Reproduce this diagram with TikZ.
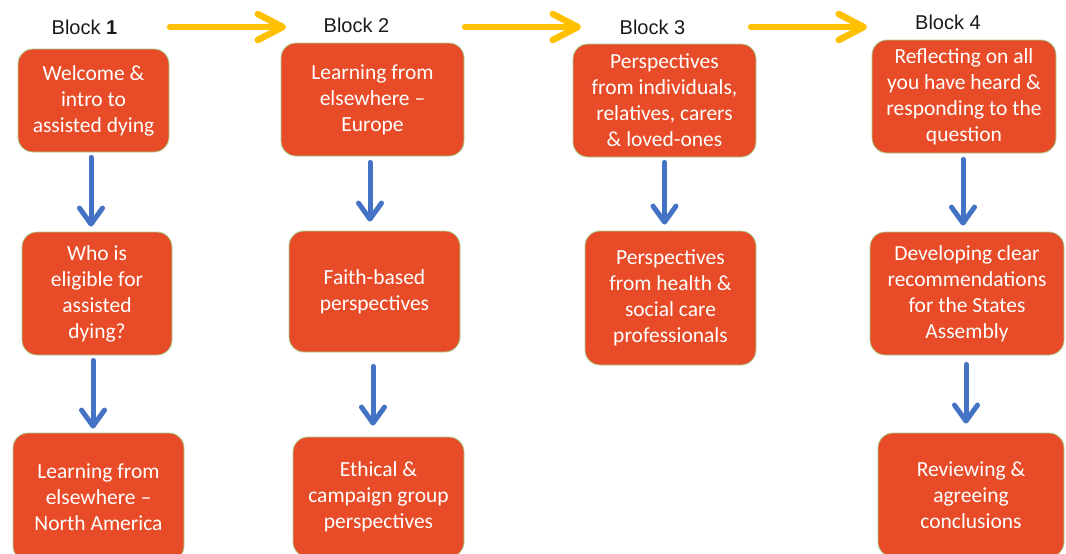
\documentclass[tikz,border=0pt]{standalone}
\usepackage{fontspec}
\setmainfont{Carlito}
\newfontfamily\arialf{Liberation Sans}
\usetikzlibrary{arrows.meta}
\definecolor{boxfill}{HTML}{E84B27}
\definecolor{boxline}{HTML}{A9D18E}
\definecolor{barrowc}{HTML}{4472C4}
\definecolor{yarrowc}{HTML}{FFC000}
\definecolor{labc}{HTML}{1A1A1A}
\tikzset{
  box/.style={draw=boxline, line width=0.8pt, fill=boxfill, rounded corners=15pt,
    text=white, align=center, inner sep=0pt,
    font=\fontsize{21.5}{26}\selectfont},
  blocklab/.style={text=labc, font=\arialf\fontsize{20}{24}\selectfont, inner sep=0pt},
  barrow/.style={draw=barrowc, line width=5pt, line cap=round, line join=round,
    -{Straight Barb[length=16pt,width=23pt,line cap=round,line join=round]}},
  yarrow/.style={draw=yarrowc, line width=6.5pt, line cap=round, line join=round,
    -{Straight Barb[length=25pt,width=26pt,line cap=round,line join=round]}}
}
\begin{document}
\begin{tikzpicture}[x=1pt,y=-1pt]
\useasboundingbox (0,0) rectangle (1066,554);
\begin{scope}
\clip (0,0) rectangle (1066,554);
% Block labels
\node[blocklab] (L1) at (84.5,27) {Block \textbf{1}};
\node[blocklab] (L2) at (356.5,25) {Block 2};
\node[blocklab] (L3) at (652.5,27) {Block 3};
\node[blocklab] (L4) at (948,22) {Block 4};
% yellow arrow ends
\coordinate (y1s) at (170,27); \coordinate (y1e) at (286,27);
\coordinate (y2s) at (465,27); \coordinate (y2e) at (581,27);
\coordinate (y3s) at (751,27); \coordinate (y3e) at (867,27);
\draw[yarrow] (y1s) -- (y1e);
\draw[yarrow] (y2s) -- (y2e);
\draw[yarrow] (y3s) -- (y3e);
% Block 1
\node[box, minimum width=151pt, minimum height=103pt] (A1) at (93.5,100.5) {Welcome \&\\intro to\\assisted dying};
\node[box, minimum width=150pt, minimum height=123pt] (A2) at (97,293.5) {Who is\\eligible for\\assisted\\dying?};
\node[box, minimum width=171pt, minimum height=128pt] (A3) at (98.5,497) {Learning from\\elsewhere –\\North America};
% Block 2
\node[box, minimum width=183pt, minimum height=113pt] (B1) at (372.5,99.5) {Learning from\\elsewhere –\\Europe};
\node[box, minimum width=171pt, minimum height=121pt] (B2) at (374.5,291.5) {Faith-based\\perspectives};
\node[box, minimum width=171pt, minimum height=120pt] (B3) at (378.5,497) {Ethical \&\\campaign group\\perspectives};
% Block 3
\node[box, minimum width=183pt, minimum height=113pt] (C1) at (664.5,100.5) {Perspectives\\from individuals,\\relatives, carers\\\& loved-ones};
\node[box, minimum width=171pt, minimum height=134pt] (C2) at (670.5,298) {Perspectives\\from health \&\\social care\\professionals};
% Block 4
\node[box, minimum width=184pt, minimum height=113pt] (D1) at (964,96.5) {Reflecting on all\\you have heard \&\\responding to the\\question};
\node[box, minimum width=194pt, minimum height=123pt] (D2) at (967,293.5) {Developing clear\\recommendations\\for the States\\Assembly};
\node[box, minimum width=186pt, minimum height=124pt] (D3) at (971,495) {Reviewing \&\\agreeing\\conclusions};
% blue arrows
\draw[barrow, shorten <=5pt, shorten >=5pt] ([xshift=-2.5pt]A1.south) -- ([xshift=-2.5pt]A1.south |- A2.north);
\draw[barrow, shorten <=5pt, shorten >=4pt] ([xshift=-4pt]A2.south) -- ([xshift=-4pt]A2.south |- A3.north);
\draw[barrow, shorten <=6pt, shorten >=9pt] ([xshift=-2.5pt]B1.south) -- ([xshift=-2.5pt]B1.south |- B2.north);
\draw[barrow, shorten <=14pt, shorten >=11pt] ([xshift=-1.5pt]B2.south) -- ([xshift=-1.5pt]B2.south |- B3.north);
\draw[barrow, shorten <=5pt, shorten >=6pt] (C1.south) -- (C1.south |- C2.north);
\draw[barrow, shorten <=6pt, shorten >=6pt] ([xshift=-1pt]D1.south) -- ([xshift=-1pt]D1.south |- D2.north);
\draw[barrow, shorten <=9pt, shorten >=9pt] ([xshift=-1pt]D2.south) -- ([xshift=-1pt]D2.south |- D3.north);
\end{scope}
\end{tikzpicture}
\end{document}
